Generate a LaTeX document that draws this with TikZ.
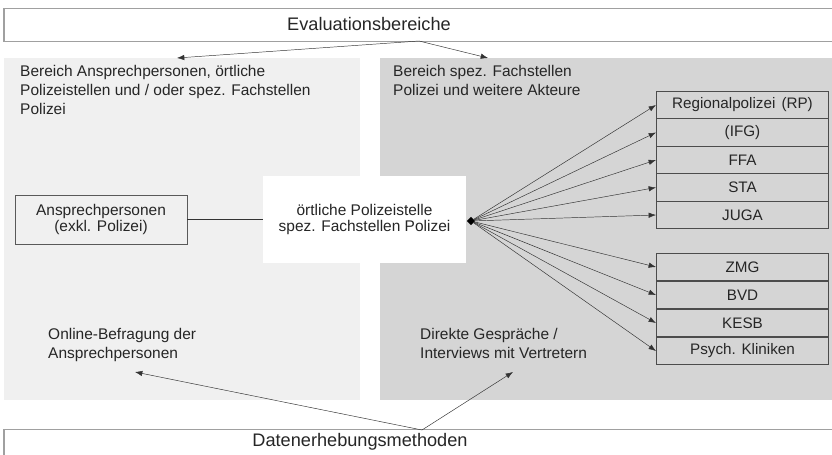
\documentclass[tikz,border=0pt]{standalone}
\usepackage{fontspec}
\setmainfont{Liberation Sans}
\usetikzlibrary{arrows.meta, positioning, shapes.geometric}
\definecolor{panellight}{HTML}{F0F0F0}
\definecolor{paneldark}{HTML}{D5D5D5}
\definecolor{framegray}{HTML}{A0A0A0}
\definecolor{linegray}{HTML}{333333}

\begin{document}
\begin{tikzpicture}
	[%
	x=0.03cm, y=-0.03cm,
	headbox/.style ={rectangle,	draw=framegray,	fill=white,	line width=0.9pt,	inner sep=0pt,	minimum width=24.96cm,	minimum height=0.99cm},%
	headtext/.style={inner sep=0pt,	text=black!85,	font=\fontsize{15.5}{18}\selectfont},%
	plainbox/.style={rectangle,	draw=black!65,	fill=panellight,	line width=0.7pt,	align=center,	text=black!85,	font=\fontsize{13.2}{14.3}\selectfont},%
	rowbox/.style  ={rectangle,	draw=black!70,	fill=paneldark,	line width=0.9pt,	inner sep=0pt,	minimum width=5.16cm,	minimum height=0.825cm,	text=black!85,	font=\fontsize{13}{15}\selectfont},%
	paneltext/.style={anchor=north west,	align=left,	inner sep=0pt,	text=black!85,	font=\fontsize{13.2}{16.2}\selectfont},%
	link/.style    ={draw=linegray,	-{Latex[length=2.2mm,width=1.6mm]}},%
	]
	\useasboundingbox (0,0) rectangle (832,455);

	% background panels
	\fill [panellight] (4,58) rectangle (360,400);
	\fill [paneldark] (380,58) rectangle (832,400);

	% header and footer
	\node (evalbox) at (420,25) [headbox] {};
	\node (evallabel) at (369,24) [headtext] {Evaluationsbereiche};
	\node (databox) at (420,446) [headbox] {};
	\node (datalabel) at (360,442) [headtext] {Datenerhebungsmethoden};

	% panel texts
	\node (lefttext)  at (20,65)  [paneltext] {Bereich Ansprechpersonen, örtliche\\Polizeistellen und / oder spez. Fachstellen\\Polizei};
	\node (righttext) at (393,65) [paneltext] {Bereich spez. Fachstellen\\Polizei und weitere Akteure};
	\node (onlinetext) at (48,328) [paneltext] {Online-Befragung der\\Ansprechpersonen};
	\node (directtext) at (420,328) [paneltext] {Direkte Gespräche /\\Interviews mit Vertretern};

	% middle
	\node (ansprech) at (101,219.5) [plainbox, minimum width=5.16cm, minimum height=1.47cm] {Ansprechpersonen\\(exkl. Polizei)};
	\node (center) at (364.5,219.5) [rectangle, fill=white, minimum width=6.09cm, minimum height=2.61cm, align=center, text=black!85, font=\fontsize{13.2}{14.3}\selectfont] {örtliche Polizeistelle\\spez. Fachstellen Polizei};
	\node (hub) at (471,221) [diamond, fill=black, inner sep=0pt, minimum size=0.25cm] {};

	\foreach \lbl [count=\i] in {{Regionalpolizei\hspace{0.4em}(RP)}, {(IFG)}, FFA, STA, JUGA}
		\node (row\i) at (742.5,77.5+27.5*\i) [rowbox] {\lbl};
	\foreach \lbl [count=\i from 6] in {ZMG, BVD, KESB, {Psych. Kliniken}}
		\node (row\i) at (742.5,99+28*\i) [rowbox] {\lbl};

	% anchor points for the arrows
	\coordinate (evalsrc) at (419,41);
	\coordinate (leftin) at (177,58);
	\coordinate (rightin) at (488,58);
	\coordinate (datasrc) at (422,430);
	\coordinate (onlinein) at (135,372);
	\coordinate (directin) at (513,372);

	% interconnections
	\draw [link] (evalsrc) -- (leftin);
	\draw [link] (evalsrc) -- (rightin);
	\draw [link] (datasrc) -- (onlinein);
	\draw [link] (datasrc) -- (directin);

	\draw [draw=linegray] (ansprech) -- (center);
	\foreach \i in {1,...,9} \draw [link] (hub) -- (row\i.west);

\end{tikzpicture}
\end{document}
